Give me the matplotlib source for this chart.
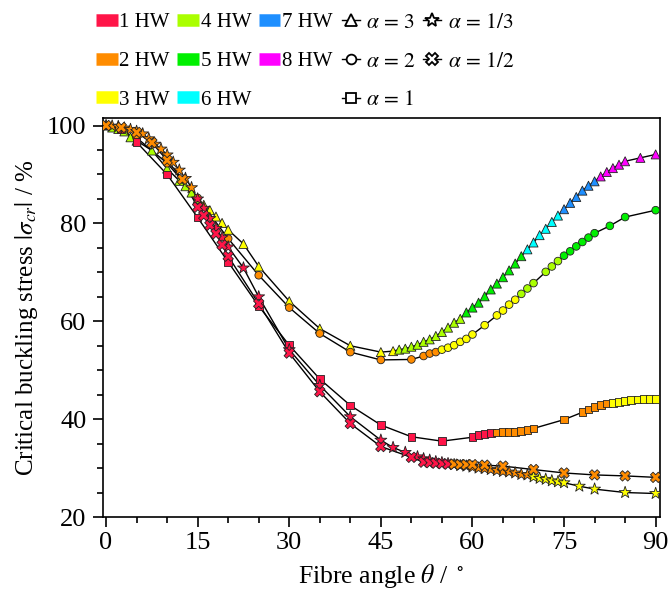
import matplotlib
matplotlib.use("Agg")
import matplotlib.pyplot as plt
import numpy as np
from matplotlib.lines import Line2D
from matplotlib.ticker import MultipleLocator

plt.rcParams['font.family'] = ['Liberation Serif', 'DejaVu Serif']
plt.rcParams['mathtext.fontset'] = 'stix'

# colour for each number of half-waves (HW)
hw_colors = {1: '#ff1548', 2: '#ff8c00', 3: '#ffff00', 4: '#aaff00',
             5: '#00f000', 6: '#00ffff', 7: '#1e8fff', 8: '#ff00ff'}

# alpha = 3 (triangles)
theta_a3 = [0, 1, 2, 3, 4, 5, 7.5, 10, 12, 13, 14, 15, 16, 17, 18, 19, 20, 22.5, 25, 30,
            35, 40, 45, 47, 48, 49, 50, 51, 52, 53, 54, 55, 56, 57, 58, 59, 60, 61, 62,
            63, 64, 65, 66, 67, 68, 69, 70, 71, 72, 73, 74, 75, 76, 77, 78, 79, 80, 81,
            82, 83, 84, 85, 87.5, 90]
sig_a3 = [100.0, 99.6, 99.3, 98.8, 97.6, 96.9, 94.9, 91.2, 88.7, 87.6, 86.3, 85.0, 83.8,
          82.7, 81.4, 80.1, 78.7, 75.8, 71.2, 64.1, 58.5, 55.0, 53.7, 53.9, 54.2, 54.4,
          54.8, 55.2, 55.8, 56.3, 57.0, 57.8, 58.7, 59.7, 60.5, 61.8, 62.8, 63.8, 65.1,
          66.5, 67.7, 69.0, 70.4, 71.8, 73.3, 74.7, 76.1, 77.6, 78.9, 80.3, 81.6, 82.9,
          84.2, 85.4, 86.7, 87.7, 88.6, 89.6, 90.5, 91.3, 92.0, 92.7, 93.4, 94.1]
hw_a3 = np.repeat([4, 3, 4, 5, 6, 7, 8], [12, 12, 11, 10, 6, 6, 7])

# alpha = 2 (circles)
theta_a2 = [0, 5, 10, 15, 20, 25, 30, 35, 40, 45, 50, 52, 53, 54, 55, 56, 57, 58, 59, 60,
            62, 64, 65, 66, 67, 68, 69, 70, 72, 73, 74, 75, 76, 77, 78, 79, 80, 82.5, 85, 90]
sig_a2 = [100.0, 97.5, 92.3, 85.2, 76.9, 69.4, 62.8, 57.5, 53.7, 52.1, 52.2, 52.9, 53.4,
          53.7, 54.2, 54.6, 55.1, 55.8, 56.4, 57.3, 59.2, 61.2, 62.2, 63.4, 64.4, 65.6,
          66.7, 67.8, 70.1, 71.2, 72.3, 73.4, 74.3, 75.3, 76.2, 77.1, 78.0, 79.5, 81.3, 82.7]
hw_a2 = np.repeat([2, 3, 4, 5], [14, 11, 6, 9])

# alpha = 1 (squares)
theta_a1 = [0, 2.5, 5, 10, 15, 20, 25, 30, 35, 40, 45, 50, 55, 60, 61, 62, 63, 64, 65, 66,
            67, 68, 69, 70, 75, 78, 79, 80, 81, 82, 83, 84, 85, 86, 87, 88, 89, 90]
sig_a1 = [100.0, 99.3, 96.6, 90.0, 81.2, 72.1, 63.1, 55.1, 48.2, 42.8, 38.8, 36.4, 35.5,
          36.3, 36.7, 36.9, 37.2, 37.3, 37.4, 37.4, 37.4, 37.6, 37.8, 38.1, 39.9, 41.4,
          42.0, 42.5, 42.9, 43.2, 43.3, 43.5, 43.7, 43.9, 44.0, 44.1, 44.1, 44.1]
hw_a1 = np.repeat([1, 2, 3], [17, 13, 8])

# alpha = 1/3 (stars)
theta_a13 = [0, 1, 2, 3, 4, 5, 6, 7, 8, 9, 10, 11, 12, 13, 14, 15, 16, 17, 18, 19, 20,
             22.5, 25, 30, 35, 40, 45, 47, 49, 51, 52, 53, 54, 55, 56, 57, 58, 59, 60, 61,
             62, 63, 64, 65, 66, 67, 68, 69, 70, 71, 72, 73, 74, 75, 77.5, 80, 85, 90]
sig_a13 = [100.0, 99.9, 99.8, 99.5, 99.2, 98.8, 98.3, 97.3, 96.2, 95.2, 94.0, 92.5, 90.9,
           89.2, 87.3, 85.0, 83.1, 81.0, 79.0, 77.1, 75.2, 70.9, 65.0, 54.2, 46.9, 40.5,
           35.7, 34.2, 33.2, 32.3, 31.9, 31.6, 31.3, 31.1, 30.9, 30.7, 30.5, 30.4, 30.2,
           30.0, 29.9, 29.7, 29.5, 29.3, 29.2, 29.0, 28.7, 28.6, 28.2, 27.9, 27.7, 27.4,
           27.2, 27.0, 26.3, 25.7, 25.0, 24.8]
hw_a13 = np.repeat([2, 1, 2, 3], [15, 20, 13, 10])

# alpha = 1/2 (crosses)
theta_a12 = [0, 2.5, 5, 7.5, 10, 12.5, 15, 16, 17, 18, 19, 20, 25, 30, 35, 40, 45, 50, 52,
             53, 54, 55, 56, 57, 58, 59, 60, 62, 65, 70, 75, 80, 85, 90]
sig_a12 = [100.0, 99.6, 98.6, 96.5, 92.9, 89.0, 83.3, 81.6, 79.6, 77.9, 75.6, 73.3, 63.6,
           53.5, 45.6, 39.1, 34.4, 32.2, 31.2, 31.1, 31.0, 30.9, 30.8, 30.8, 30.7, 30.7,
           30.7, 30.6, 30.4, 29.7, 29.0, 28.6, 28.4, 28.1]
hw_a12 = np.repeat([2, 1, 2], [6, 17, 11])

series = [
    (theta_a3, sig_a3, hw_a3, '^', 6.5, r'$\alpha\,=\,3$'),
    (theta_a2, sig_a2, hw_a2, 'o', 5.5, r'$\alpha\,=\,2$'),
    (theta_a1, sig_a1, hw_a1, 's', 5.5, r'$\alpha\,=\,1$'),
    (theta_a13, sig_a13, hw_a13, '*', 9, r'$\alpha\,=\,1/3$'),
    (theta_a12, sig_a12, hw_a12, 'X', 7.5, r'$\alpha\,=\,1/2$'),
]

fig = plt.figure(figsize=(6.71, 5.97), dpi=100)
ax = fig.add_axes([0.1535, 0.134, 0.83, 0.668])

for th, sg, hw, mk, ms, lab in series:
    ax.plot(th, sg, '-', color='k', lw=1.0, zorder=2)
    cols = [hw_colors[h] for h in hw]
    ax.scatter(th, sg, marker=mk, s=ms**2, c=cols, edgecolors='#222222',
               linewidths=0.6, zorder=3)

ax.set_xlim(-0.5, 90.7)
ax.set_ylim(20, 101.5)
ax.xaxis.set_major_locator(MultipleLocator(15))
ax.xaxis.set_minor_locator(MultipleLocator(5))
ax.yaxis.set_major_locator(MultipleLocator(20))
ax.yaxis.set_minor_locator(MultipleLocator(5))
ax.tick_params(which='both', direction='out', top=False, right=False, labelsize=19)
ax.tick_params(which='major', length=7, width=1.2)
ax.tick_params(which='minor', length=4, width=1.2)
ax.tick_params(axis='y', pad=5)
for sp in ax.spines.values():
    sp.set_linewidth(1.2)

ax.set_xlabel(r'Fibre angle $\theta$ / $^\circ$', fontsize=18.5, labelpad=6)
ax.set_ylabel(r'Critical buckling stress $|\sigma_{cr}|$ / %', fontsize=18, labelpad=5)

# legend 1: colour patches for HW
blank = Line2D([], [], color='none')
hw_handles, hw_labels = [], []
for h in [1, 2, 3, 4, 5, 6, 7, 8]:
    hw_handles.append(Line2D([], [], color=hw_colors[h], lw=9, solid_capstyle='butt'))
    hw_labels.append('%d HW' % h)
hw_handles.append(blank)
hw_labels.append('')
fig.legend(hw_handles, hw_labels, ncol=3, loc='upper left', bbox_to_anchor=(0.124, 1.0),
           frameon=False, fontsize=15, handlelength=1.05, handletextpad=0.08,
           columnspacing=0.35, labelspacing=0.92, borderpad=0.1)

# legend 2: black markers for aspect ratio alpha
a_handles, a_labels = [], []
for th, sg, hw, mk, ms, lab in series:
    a_handles.append(Line2D([], [], color='k', lw=1.0, marker=mk, markersize=ms + 1.5,
                            markerfacecolor='white', markeredgecolor='k',
                            markeredgewidth=1.3))
    a_labels.append(lab)
a_handles.append(blank)
a_labels.append('')
fig.legend(a_handles, a_labels, ncol=2, loc='upper left', bbox_to_anchor=(0.49, 1.0),
           frameon=False, fontsize=15.5, handlelength=0.85, handletextpad=0.3,
           columnspacing=0.3, labelspacing=0.86, borderpad=0.1)

fig.savefig('out.png', dpi=100)
